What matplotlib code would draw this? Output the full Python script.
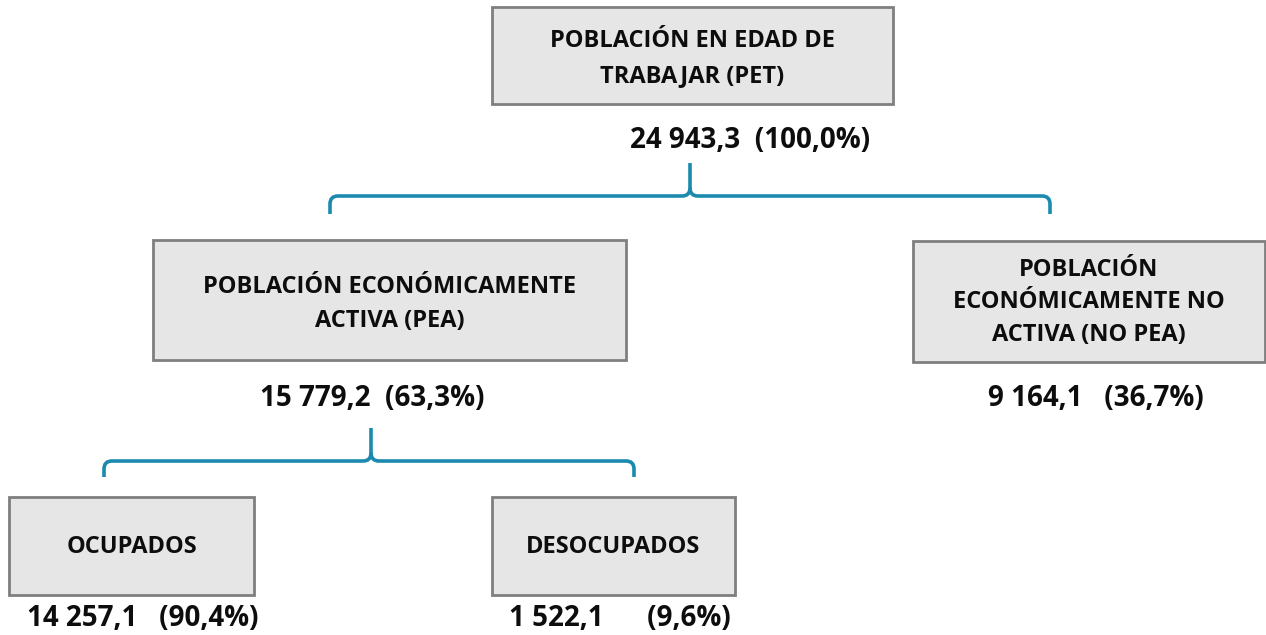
import matplotlib
matplotlib.use('Agg')
import matplotlib.pyplot as plt
import matplotlib.patches as patches
from matplotlib.path import Path

# Datos (miles de personas)
labels = [
    'POBLACIÓN EN EDAD DE\nTRABAJAR (PET)',
    'POBLACIÓN ECONÓMICAMENTE\nACTIVA (PEA)',
    'POBLACIÓN\nECONÓMICAMENTE NO\nACTIVA (NO PEA)',
    'OCUPADOS',
    'DESOCUPADOS',
]
values = ['24 943,3', '15 779,2', '9 164,1', '14 257,1', '1 522,1']
pcts = ['100,0%', '63,3%', '36,7%', '90,4%', '9,6%']
gaps = [2, 2, 3, 3, 6]

# layout in pixel coords: (x0, y0, x1, y1), value text centre
boxes = [
    (492, 7, 893, 104),
    (153, 240, 626, 360),
    (913, 241, 1265, 362),
    (9, 497, 254, 595),
    (492, 497, 735, 595),
]
value_pos = [(750, 141), (372, 399), (1096, 398), (143, 619), (620, 619)]
spacing = [1.6, 1.6, 1.5, 1.6, 1.6]
label_dy = [3, 4, 1, 1, 1]

BRACE = '#1b8aae'
FONT = ['Open Sans', 'DejaVu Sans']

fig = plt.figure(figsize=(12.66, 6.35), dpi=100)
ax = fig.add_axes([0, 0, 1, 1])
ax.set_xlim(0, 1266)
ax.set_ylim(635, 0)
ax.axis('off')


def brace(ax, x0, x1, xc, yh, yend, ytip, r=8):
    verts = [
        (x0, yend), (x0, yh + r), (x0, yh), (x0 + r, yh),
        (xc - r, yh), (xc, yh), (xc, yh - r), (xc, ytip),
        (xc, yh - r), (xc, yh), (xc + r, yh),
        (x1 - r, yh), (x1, yh), (x1, yh + r), (x1, yend),
    ]
    codes = [Path.MOVETO, Path.LINETO, Path.CURVE3, Path.CURVE3,
             Path.LINETO, Path.CURVE3, Path.CURVE3, Path.LINETO,
             Path.MOVETO, Path.CURVE3, Path.CURVE3,
             Path.LINETO, Path.CURVE3, Path.CURVE3, Path.LINETO]
    ax.add_patch(patches.PathPatch(Path(verts, codes), fill=False,
                                   edgecolor=BRACE, lw=2.6, capstyle='butt'))


for i, (x0, y0, x1, y1) in enumerate(boxes):
    ax.add_patch(patches.Rectangle((x0, y0), x1 - x0, y1 - y0,
                                   facecolor='#e6e6e6', edgecolor='#7f7f7f', lw=2))
    ax.text((x0 + x1) / 2, (y0 + y1) / 2 + label_dy[i], labels[i],
            ha='center', va='center', fontsize=17, fontweight='bold',
            family=FONT, color='#0d0d0d', linespacing=spacing[i])
    vx, vy = value_pos[i]
    ax.text(vx, vy, values[i] + ' ' * gaps[i] + '(' + pcts[i] + ')',
            ha='center', va='center', fontsize=20, fontweight='bold',
            family=FONT, color='#0d0d0d')

brace(ax, 330, 1050, 690, 196, 214, 163)
brace(ax, 104, 634, 371, 461, 477, 428)

fig.savefig('out.png', dpi=100, facecolor='white')
